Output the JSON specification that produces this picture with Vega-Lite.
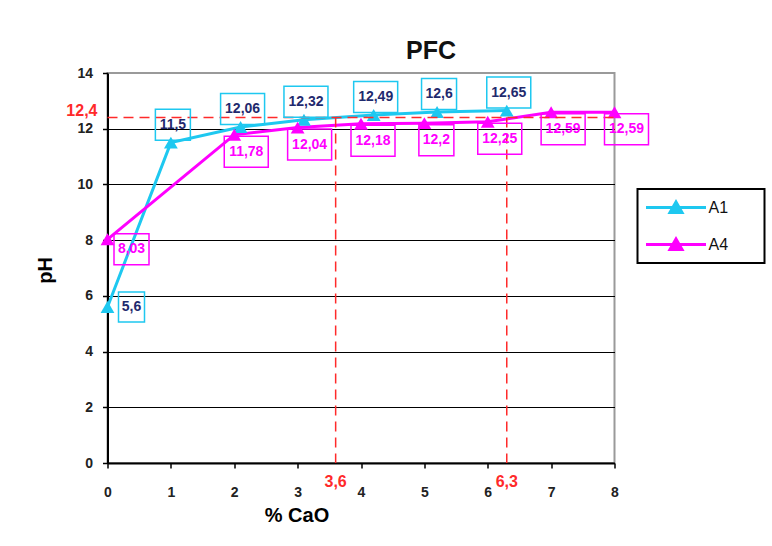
{
  "$schema": "https://vega.github.io/schema/vega-lite/v6.json",
  "width": 507,
  "height": 390,
  "autosize": {"type": "none"},
  "padding": {"left": 107.5, "top": 73, "right": 157.5, "bottom": 83},
  "background": "white",
  "config": {
    "font": "Liberation Sans",
    "view": {"stroke": "#9a9a9a", "strokeWidth": 2},
    "axisX": {
      "grid": false,
      "domainColor": "#000", "domainWidth": 2,
      "tickColor": "#000", "tickWidth": 1.5, "tickSize": 5,
      "labelFontSize": 14, "labelFontWeight": "bold", "labelColor": "#222", "labelPadding": 17, "labelFlush": false,
      "titleFontSize": 20, "titleFontWeight": "bold", "titleColor": "#000",
      "titleX": 189, "titleY": 52, "titleBaseline": "middle", "titleAlign": "center"
    },
    "axisY": {
      "grid": true,
      "gridColor": {"condition": {"test": "datum.value == 14", "value": "#9a9a9a"}, "value": "#000"},
      "gridWidth": 1.2,
      "domainColor": "#000", "domainWidth": 2,
      "tickColor": "#000", "tickWidth": 1.5, "tickSize": 5,
      "labelFontSize": 14, "labelFontWeight": "bold", "labelColor": "#222", "labelPadding": 10,
      "titleFontSize": 20, "titleFontWeight": "bold", "titleColor": "#000",
      "titleX": -62, "titleY": 197, "titleBaseline": "middle", "titleAlign": "center", "titleAngle": -90
    }
  },
  "title": {
    "text": "PFC", "fontSize": 25, "fontWeight": "bold", "color": "#111",
    "anchor": "middle", "dx": 70, "dy": 32, "offset": 14, "baseline": "alphabetic"
  },
  "datasets": {
    "pts": [
      {"series": "A1", "cao": 0, "ph": 5.6, "label": "5,6"},
      {"series": "A1", "cao": 1, "ph": 11.5, "label": "11,5"},
      {"series": "A1", "cao": 2.1, "ph": 12.06, "label": "12,06"},
      {"series": "A1", "cao": 3.1, "ph": 12.32, "label": "12,32"},
      {"series": "A1", "cao": 4.2, "ph": 12.49, "label": "12,49"},
      {"series": "A1", "cao": 5.2, "ph": 12.6, "label": "12,6"},
      {"series": "A1", "cao": 6.3, "ph": 12.65, "label": "12,65"},
      {"series": "A4", "cao": 0, "ph": 8.03, "label": "8,03"},
      {"series": "A4", "cao": 2, "ph": 11.78, "label": "11,78"},
      {"series": "A4", "cao": 3, "ph": 12.04, "label": "12,04"},
      {"series": "A4", "cao": 4, "ph": 12.18, "label": "12,18"},
      {"series": "A4", "cao": 5, "ph": 12.2, "label": "12,2"},
      {"series": "A4", "cao": 6, "ph": 12.25, "label": "12,25"},
      {"series": "A4", "cao": 7, "ph": 12.59, "label": "12,59"},
      {"series": "A4", "cao": 8, "ph": 12.59, "label": "12,59"}
    ],
    "vref": [
      {"cao": 3.6, "ph": 12.4, "label": "3,6"},
      {"cao": 6.3, "ph": 12.4, "label": "6,3"}
    ],
    "href": [
      {"cao": 0, "ph": 12.4, "label": "12,4"}
    ]
  },
  "encoding": {
    "x": {"field": "cao", "type": "quantitative", "scale": {"domain": [0, 8], "nice": false}, "title": "% CaO",
          "axis": {"values": [0, 1, 2, 3, 4, 5, 6, 7, 8], "format": "d"}},
    "y": {"field": "ph", "type": "quantitative", "scale": {"domain": [0, 14], "nice": false}, "title": "pH",
          "axis": {"values": [0, 2, 4, 6, 8, 10, 12, 14], "format": "d"}}
  },
  "layer": [
    {
      "data": {"name": "pts"},
      "mark": {"type": "line", "strokeWidth": 3},
      "encoding": {
        "color": {
          "field": "series", "type": "nominal",
          "scale": {"domain": ["A1", "A4"], "range": ["#1ec8f0", "#ff00ff"]},
          "legend": {
            "orient": "none", "legendX": 530, "legendY": 116,
            "title": "\u00a0", "titleOrient": "right", "titlePadding": 29, "titleFontSize": 11,
            "symbolType": "M-1,0L5,0M1.4,0.5L2,-0.55L2.6,0.5Z",
            "symbolSize": 400, "symbolStrokeWidth": 3,
            "labelFontSize": 16, "labelColor": "#111", "labelOffset": 41,
            "padding": 7, "rowPadding": 14,
            "strokeColor": "#000", "fillColor": "white",
            "encode": {
              "symbols": {"update": {"fill": {"scale": "color", "field": "value"}, "stroke": {"scale": "color", "field": "value"}}},
              "legend": {"update": {"strokeWidth": {"value": 2}}}
            }
          }
        },
        "order": {"field": "cao", "type": "quantitative"}
      }
    },
    {
      "data": {"name": "pts"},
      "mark": {"type": "point", "shape": "triangle-up", "filled": true, "size": 190, "opacity": 1},
      "encoding": {
        "color": {"field": "series", "type": "nominal", "legend": null}
      }
    },
    {
      "data": {"name": "href"},
      "mark": {"type": "rule", "color": "#ff2a2a", "strokeWidth": 1.5, "strokeDash": [10, 6]},
      "encoding": {"x2": {"datum": 8}}
    },
    {
      "data": {"name": "vref"},
      "mark": {"type": "rule", "color": "#ff2a2a", "strokeWidth": 1.5, "strokeDash": [10, 6]},
      "encoding": {"y2": {"datum": 0}}
    },
    {
      "data": {"name": "pts"},
      "transform": [{"filter": "datum.series == 'A1' && datum.cao > 0"}],
      "mark": {"type": "rect", "fill": null, "fillOpacity": 0, "stroke": "#1ec8f0", "strokeWidth": 1.5, "width": {"expr": "length(datum.label) * 9 - 1"}, "height": 31, "xOffset": 2, "yOffset": -18}
    },
    {
      "data": {"name": "pts"},
      "transform": [{"filter": "datum.series == 'A1' && datum.cao == 0"}],
      "mark": {"type": "rect", "fill": null, "fillOpacity": 0, "stroke": "#1ec8f0", "strokeWidth": 1.5, "width": {"expr": "length(datum.label) * 9 - 1"}, "height": 30, "xOffset": 24, "yOffset": 0}
    },
    {
      "data": {"name": "pts"},
      "transform": [{"filter": "datum.series == 'A4' && datum.cao > 0"}],
      "mark": {"type": "rect", "fill": null, "fillOpacity": 0, "stroke": "#ff00ff", "strokeWidth": 1.5, "width": {"expr": "length(datum.label) * 9 - 1"}, "height": 31, "xOffset": 12, "yOffset": 17}
    },
    {
      "data": {"name": "pts"},
      "transform": [{"filter": "datum.series == 'A4' && datum.cao == 0"}],
      "mark": {"type": "rect", "fill": null, "fillOpacity": 0, "stroke": "#ff00ff", "strokeWidth": 1.5, "width": {"expr": "length(datum.label) * 9 - 1"}, "height": 31, "xOffset": 24, "yOffset": 10}
    },
    {
      "data": {"name": "pts"},
      "transform": [{"filter": "datum.series == 'A1' && datum.cao > 0"}],
      "mark": {"type": "text", "color": "#1f2a6e", "fontSize": 14, "fontWeight": "bold", "align": "center", "baseline": "middle", "xOffset": 2, "yOffset": -18},
      "encoding": {"text": {"field": "label"}}
    },
    {
      "data": {"name": "pts"},
      "transform": [{"filter": "datum.series == 'A1' && datum.cao == 0"}],
      "mark": {"type": "text", "color": "#1f2a6e", "fontSize": 14, "fontWeight": "bold", "align": "center", "baseline": "middle", "xOffset": 24, "yOffset": 0},
      "encoding": {"text": {"field": "label"}}
    },
    {
      "data": {"name": "pts"},
      "transform": [{"filter": "datum.series == 'A4' && datum.cao > 0"}],
      "mark": {"type": "text", "color": "#ff00ff", "fontSize": 14, "fontWeight": "bold", "align": "center", "baseline": "middle", "xOffset": 12, "yOffset": 17},
      "encoding": {"text": {"field": "label"}}
    },
    {
      "data": {"name": "pts"},
      "transform": [{"filter": "datum.series == 'A4' && datum.cao == 0"}],
      "mark": {"type": "text", "color": "#ff00ff", "fontSize": 14, "fontWeight": "bold", "align": "center", "baseline": "middle", "xOffset": 24, "yOffset": 10},
      "encoding": {"text": {"field": "label"}}
    },
    {
      "data": {"name": "href"},
      "mark": {"type": "text", "color": "#ff2a2a", "fontSize": 16, "fontWeight": "bold", "align": "right", "baseline": "alphabetic", "dx": -10, "dy": -2},
      "encoding": {"text": {"field": "label"}}
    },
    {
      "data": {"name": "vref"},
      "mark": {"type": "text", "color": "#ff2a2a", "fontSize": 16, "fontWeight": "bold", "align": "center", "baseline": "middle", "dy": 19},
      "encoding": {"y": {"datum": 0}, "text": {"field": "label"}}
    }
  ]
}
